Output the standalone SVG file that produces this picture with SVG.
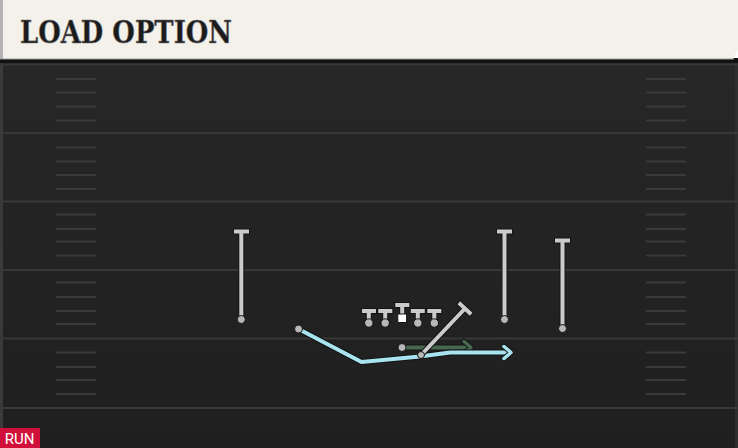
<svg xmlns="http://www.w3.org/2000/svg" width="738" height="448" viewBox="0 0 738 448">
<defs>
<linearGradient id="fieldG" x1="0" y1="0" x2="0" y2="1">
<stop offset="0" stop-color="#272727"/>
<stop offset="1" stop-color="#1f1f1f"/>
</linearGradient>
<marker id="arrB" markerUnits="userSpaceOnUse" markerWidth="18" markerHeight="18" refX="9" refY="9" orient="auto" overflow="visible">
<path d="M3,3 L10,9 L3,15" fill="none" stroke="#141414" stroke-width="5.5" stroke-linecap="round" stroke-linejoin="round"/>
<path d="M3,3 L10,9 L3,15" fill="none" stroke="#a8e4ef" stroke-width="3.5" stroke-linecap="round" stroke-linejoin="round"/>
</marker>
<marker id="arrG" markerUnits="userSpaceOnUse" markerWidth="18" markerHeight="18" refX="9" refY="9" orient="auto" overflow="visible">
<path d="M3,3 L10,9 L3,15" fill="none" stroke="#141414" stroke-width="5.5" stroke-linecap="round" stroke-linejoin="round"/>
<path d="M3,3 L10,9 L3,15" fill="none" stroke="#46684e" stroke-width="3.5" stroke-linecap="round" stroke-linejoin="round"/>
</marker>
</defs>
<style>
.yard{stroke:#383838;stroke-width:2}
.hash{stroke:#3a3a3a;stroke-width:2}
.po{stroke:#141414;stroke-width:6;fill:none;stroke-linecap:square}
.pl{stroke:#cbcbcb;stroke-width:4;fill:none;stroke-linecap:square}
.dot{fill:#b8b8b8;stroke:#141414;stroke-width:1}
.title{font-family:"DejaVu Serif","Liberation Serif",serif;font-weight:bold;font-size:31px;fill:#1b1b1b;stroke:#777777;stroke-width:0.6}
.run{font-family:Roboto,"Liberation Sans",sans-serif;font-size:15px;fill:#ffffff}
</style>

<!-- field -->
<rect x="0" y="60" width="738" height="388" fill="url(#fieldG)"/>
<rect x="0" y="60" width="3" height="388" fill="#3a3a3a"/>
<rect x="735" y="60" width="3" height="388" fill="#2e2e2e"/>
<g id="yardlines">
<line class="yard" x1="0" y1="64.5" x2="738" y2="64.5"/>
<line class="yard" x1="0" y1="133" x2="738" y2="133"/>
<line class="yard" x1="0" y1="201.5" x2="738" y2="201.5"/>
<line class="yard" x1="0" y1="270" x2="738" y2="270"/>
<line class="yard" x1="0" y1="338.5" x2="738" y2="338.5"/>
<line class="yard" x1="0" y1="408" x2="738" y2="408"/>
</g>
<g id="hashes">
<path class="hash" d="M56,79H96M56,92.5H96M56,106.5H96M56,120.5H96M56,147.5H96M56,161.5H96M56,175H96M56,189H96M56,214.5H96M56,229H96M56,241.5H96M56,255.5H96M56,282.5H96M56,297H96M56,311H96M56,324H96M56,352.5H96M56,367H96M56,380H96M56,394H96"/>
<path class="hash" d="M646,79H686M646,92.5H686M646,106.5H686M646,120.5H686M646,147.5H686M646,161.5H686M646,175H686M646,189H686M646,214.5H686M646,229H686M646,241.5H686M646,255.5H686M646,282.5H686M646,297H686M646,311H686M646,324H686M646,352.5H686M646,367H686M646,380H686M646,394H686"/>
</g>

<!-- title bar -->
<g id="header">
<rect x="0" y="58" width="738" height="5" fill="#111111"/>
<path d="M0,0H738V50L733,59H0Z" fill="#f4f1ea"/>
<rect x="0" y="0" width="3" height="59" fill="#b4b4b4"/>
<line x1="0" y1="59" x2="734" y2="59" stroke="#9a9a9a" stroke-width="1"/>
<text class="title" x="20" y="43" textLength="212" lengthAdjust="spacingAndGlyphs">LOAD OPTION</text>
</g>

<!-- connectors -->
<g id="connectors">
<line x1="402" y1="347.5" x2="470" y2="347.5" stroke="#141414" stroke-width="6"/>
<line x1="402" y1="347.5" x2="470" y2="347.5" stroke="#46684e" stroke-width="4" marker-end="url(#arrG)"/>
<polyline points="298.5,329 361.5,362 420,356.5 450,352.5 510,352.5" fill="none" stroke="#141414" stroke-width="6" stroke-linejoin="round"/>
<polyline points="298.5,329 361.5,362 420,356.5 450,352.5 510,352.5" fill="none" stroke="#a8e4ef" stroke-width="4" stroke-linejoin="round" marker-end="url(#arrB)"/>
<path class="po" d="M421,355L465,308.5M460.3,304.1L469.7,312.9"/>
<path class="pl" d="M421,355L465,308.5M460.3,304.1L469.7,312.9"/>
</g>

<!-- players -->
<g id="wr-left">
<path class="po" d="M236,231.5H247M241.3,231.5V319.5"/>
<path class="pl" d="M236,231.5H247M241.3,231.5V319.5"/>
<circle class="dot" cx="241.3" cy="319.5" r="4"/>
</g>
<g id="wr-right1">
<path class="po" d="M499,231.5H510M504.5,231.5V319.5"/>
<path class="pl" d="M499,231.5H510M504.5,231.5V319.5"/>
<circle class="dot" cx="504.5" cy="319.5" r="4"/>
</g>
<g id="wr-right2">
<path class="po" d="M557,240.5H568M562.5,240.5V328.5"/>
<path class="pl" d="M557,240.5H568M562.5,240.5V328.5"/>
<circle class="dot" cx="562.5" cy="328.5" r="4"/>
</g>
<g id="lt">
<path class="po" d="M364,311H374M368.8,311V323"/>
<path class="pl" d="M364,311H374M368.8,311V323"/>
<circle class="dot" cx="368.8" cy="323" r="4.2"/>
</g>
<g id="lg">
<path class="po" d="M380.3,311H390.3M385.2,311V323"/>
<path class="pl" d="M380.3,311H390.3M385.2,311V323"/>
<circle class="dot" cx="385.2" cy="323" r="4.2"/>
</g>
<g id="center">
<path class="po" d="M397.3,305H407.3M402.2,305V315"/>
<path class="pl" d="M397.3,305H407.3M402.2,305V315"/>
<rect x="397.8" y="314" width="8.8" height="8.5" fill="#ffffff" stroke="#141414" stroke-width="1"/>
</g>
<g id="rg">
<path class="po" d="M412.8,311H422.8M417.8,311V323"/>
<path class="pl" d="M412.8,311H422.8M417.8,311V323"/>
<circle class="dot" cx="417.8" cy="323" r="4.2"/>
</g>
<g id="rt">
<path class="po" d="M429.3,311H439.3M434.3,311V323"/>
<path class="pl" d="M429.3,311H439.3M434.3,311V323"/>
<circle class="dot" cx="434.3" cy="323" r="4.2"/>
</g>
<g id="qb">
<circle class="dot" cx="298.5" cy="329" r="4"/>
</g>
<g id="rb">
<circle class="dot" cx="402" cy="347.5" r="4"/>
</g>
<g id="hback">
<circle class="dot" cx="421" cy="355" r="3.5"/>
</g>

<g id="run-label">
<rect x="0" y="428" width="40" height="20" fill="#d0103a"/>
<text class="run" x="19.5" y="444" text-anchor="middle">RUN</text>
</g>
</svg>
